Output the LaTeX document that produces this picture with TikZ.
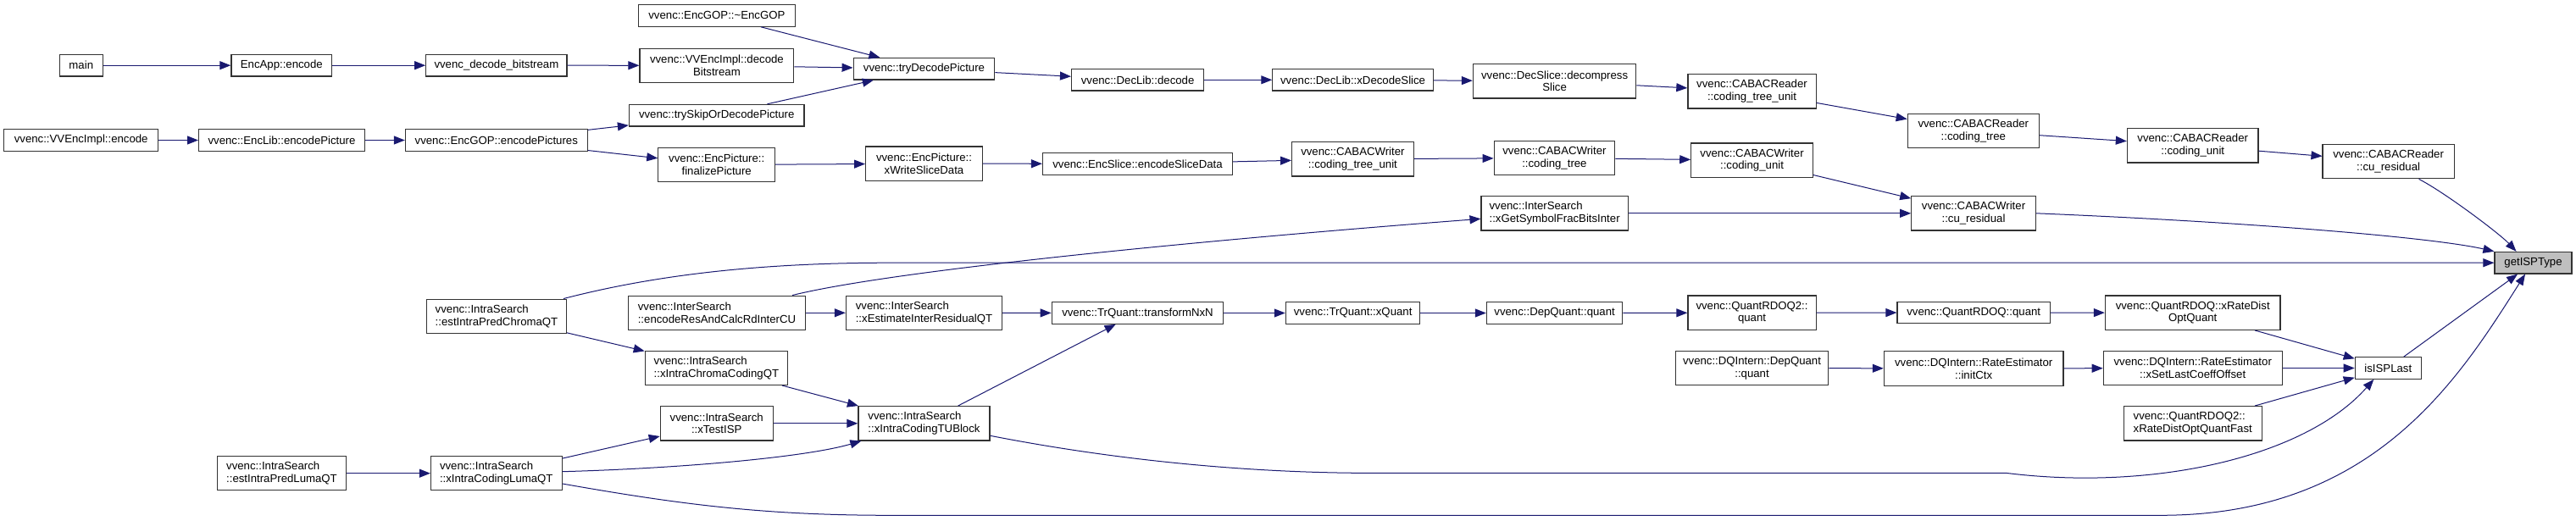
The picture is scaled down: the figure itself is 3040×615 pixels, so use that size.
\documentclass[tikz,border=0pt]{standalone}
\usepackage{fontspec}
\setmainfont{Liberation Sans}
\usetikzlibrary{arrows.meta}
\definecolor{edgec}{HTML}{191970}
\definecolor{hlfill}{HTML}{BFBFBF}
\begin{document}
\begin{tikzpicture}[x=1pt,y=-1pt,
  fn/.style={draw=black!80, line width=1.2pt, fill=white, inner sep=0pt,
    minimum height=25.6pt, font=\fontsize{13.2}{14.6}\selectfont, align=center},
  fn2/.style={fn, minimum height=40.3pt},
  fnl/.style={fn2, align=left},
  hl/.style={fn, fill=hlfill},
  call/.style={draw=edgec, line width=1pt, -{Triangle[length=13pt,width=10pt]}},
]
\useasboundingbox (0,0) rectangle (3040,615);

% column 1-3
\node[fn, minimum width=51pt] (main) at (95.8,77.2) {main};
\node[fn, minimum width=118.8pt] (encapp) at (332.3,77.2) {EncApp::encode};
\node[fn, minimum width=166.3pt] (vdb) at (585.9,77.2) {vvenc\_decode\_bitstream};
\node[fn, minimum width=181.8pt] (implenc) at (95.7,165.5) {vvenc::VVEncImpl::encode};
\node[fn, minimum width=195.8pt] (enclib) at (332.5,165.5) {vvenc::EncLib::encodePicture};
\node[fn, minimum width=214.8pt] (encgop) at (585.8,165.5) {vvenc::EncGOP::encodePictures};
\node[fnl, minimum width=164.8pt] (chroma) at (586,373.3) {vvenc::IntraSearch\\::estIntraPredChromaQT};
\node[fnl, minimum width=151.3pt] (lumaest) at (332.5,558.7) {vvenc::IntraSearch\\::estIntraPredLumaQT};
\node[fnl, minimum width=154.6pt] (lumaqt) at (585.8,558.7) {vvenc::IntraSearch\\::xIntraCodingLumaQT};

% column 4
\node[fn, minimum width=185.6pt] (dtor) at (845.9,18.4) {vvenc::EncGOP::\textasciitilde EncGOP};
\node[fn2, minimum width=181.8pt] (decbs) at (845.9,77.3) {vvenc::VVEncImpl::decode\\Bitstream};
\node[fn, minimum width=206.5pt] (tryskip) at (845.7,136.2) {vvenc::trySkipOrDecodePicture};
\node[fn2, minimum width=137.7pt] (finalize) at (845.7,194.5) {vvenc::EncPicture::\\finalizePicture};
\node[fnl, minimum width=208.9pt] (encres) at (846,369.3) {vvenc::InterSearch\\::encodeResAndCalcRdInterCU};
\node[fnl, minimum width=168.2pt] (chromaqt) at (845.4,434.3) {vvenc::IntraSearch\\::xIntraChromaCodingQT};
\node[fn2, minimum width=132.8pt] (xtestisp) at (845.7,499.8) {vvenc::IntraSearch\\::xTestISP};

% column 5
\node[fn, minimum width=166.7pt] (trydec) at (1090.5,81.3) {vvenc::tryDecodePicture};
\node[fn2, minimum width=137.7pt] (xwrite) at (1090.5,193.2) {vvenc::EncPicture::\\xWriteSliceData};
\node[fnl, minimum width=184.2pt] (xest) at (1090.5,369.3) {vvenc::InterSearch\\::xEstimateInterResidualQT};
\node[fnl, minimum width=155.1pt] (tublock) at (1090.5,499.8) {vvenc::IntraSearch\\::xIntraCodingTUBlock};

% column 6
\node[fn, minimum width=156.1pt] (declibdec) at (1342.6,94.3) {vvenc::DecLib::decode};
\node[fn, minimum width=224pt] (encslice) at (1342.5,193.3) {vvenc::EncSlice::encodeSliceData};
\node[fn, minimum width=202.6pt] (tnxn) at (1342.5,369.5) {vvenc::TrQuant::transformNxN};

% column 7
\node[fn, minimum width=189.5pt] (xdecslice) at (1596.6,94.3) {vvenc::DecLib::xDecodeSlice};
\node[fn2, minimum width=143.5pt] (wctu) at (1596.4,187.8) {vvenc::CABACWriter\\::coding\_tree\_unit};
\node[fn, minimum width=158.5pt] (xquant) at (1596.6,369.5) {vvenc::TrQuant::xQuant};

% column 8
\node[fn2, minimum width=192.4pt] (decompress) at (1834.6,95.8) {vvenc::DecSlice::decompress\\Slice};
\node[fn2, minimum width=142.5pt] (wct) at (1834.4,186.5) {vvenc::CABACWriter\\::coding\_tree};
\node[fnl, minimum width=173.1pt] (xgsfb) at (1834.6,251.8) {vvenc::InterSearch\\::xGetSymbolFracBitsInter};
\node[fn, minimum width=160.4pt] (depq) at (1834.6,369.5) {vvenc::DepQuant::quant};

% column 9
\node[fn2, minimum width=151.2pt] (rctu) at (2067.5,107.8) {vvenc::CABACReader\\::coding\_tree\_unit};
\node[fn2, minimum width=143.4pt] (wcu) at (2067.5,189.2) {vvenc::CABACWriter\\::coding\_unit};
\node[fn2, minimum width=151.2pt] (rdoq2q) at (2067.5,369.2) {vvenc::QuantRDOQ2::\\quant};
\node[fn2, minimum width=180.4pt] (dqdep) at (2067.5,434.5) {vvenc::DQIntern::DepQuant\\::quant};

% column 10
\node[fn2, minimum width=155.1pt] (rct) at (2328.8,154.5) {vvenc::CABACReader\\::coding\_tree};
\node[fn2, minimum width=146.4pt] (wres) at (2329,251.8) {vvenc::CABACWriter\\::cu\_residual};
\node[fn, minimum width=180.3pt] (rdoqq) at (2329.2,369) {vvenc::QuantRDOQ::quant};
\node[fn2, minimum width=211.7pt] (initctx) at (2329.2,435) {vvenc::DQIntern::RateEstimator\\::initCtx};

% column 11
\node[fn2, minimum width=154.6pt] (rcu) at (2587.7,171.8) {vvenc::CABACReader\\::coding\_unit};
\node[fn2, minimum width=206.6pt] (xrdoq) at (2587.7,369.2) {vvenc::QuantRDOQ::xRateDist\\OptQuant};
\node[fn2, minimum width=210.8pt] (xsetlast) at (2587.7,434.5) {vvenc::DQIntern::RateEstimator\\::xSetLastCoeffOffset};
\node[fnl, minimum width=162.8pt] (rdoqfast) at (2587.7,499.8) {vvenc::QuantRDOQ2::\\xRateDistOptQuantFast};

% column 12-13
\node[fn2, minimum width=155.1pt] (rres) at (2818.6,190.7) {vvenc::CABACReader\\::cu\_residual};
\node[fn, minimum width=78pt] (isisp) at (2818.3,434.5) {isISPLast};
\node[hl, minimum width=91pt] (getisp) at (2989.5,310.2) {getISPType};

% edges
\draw[call] (main) -- (encapp);
\draw[call] (encapp) -- (vdb);
\draw[call] (vdb) -- (decbs);
\draw[call] (implenc) -- (enclib);
\draw[call] (enclib) -- (encgop);
\draw[call] (encgop) -- (tryskip);
\draw[call] (encgop) -- (finalize);
\draw[call] (dtor) -- (trydec);
\draw[call] (decbs) -- (trydec);
\draw[call] (tryskip) -- (trydec);
\draw[call] (trydec) -- (declibdec);
\draw[call] (declibdec) -- (xdecslice);
\draw[call] (xdecslice) -- (decompress);
\draw[call] (decompress) -- (rctu);
\draw[call] (rctu) -- (rct);
\draw[call] (rct) -- (rcu);
\draw[call] (rcu) -- (rres);
\draw[call] ([xshift=36pt]rres.south) .. controls (2885,227) and (2950,276) .. ([xshift=-20pt]getisp.north);
\draw[call] (finalize) -- (xwrite);
\draw[call] (xwrite) -- (encslice);
\draw[call] (encslice) -- (wctu);
\draw[call] (wctu) -- (wct);
\draw[call] (wct) -- (wcu);
\draw[call] (wcu) -- (wres);
\draw[call] (xgsfb) -- (wres);
\draw[call] (wres.east) .. controls (2650,262) and (2870,280) .. (getisp.north west);
\draw[call] ([xshift=-16pt]encres.north east) .. controls (1050,320) and (1400,285) .. ([yshift=-6.5pt]xgsfb.west);
\draw[call] ([xshift=-4pt]chroma.north east) .. controls (760,328) and (880,310.2) .. (1050,310.2) -- (getisp.west);
\draw[call] (chroma) -- (chromaqt);
\draw[call] (encres) -- (xest);
\draw[call] (xest) -- (tnxn);
\draw[call] (tnxn) -- (xquant);
\draw[call] (xquant) -- (depq);
\draw[call] (depq) -- (rdoq2q);
\draw[call] (rdoq2q) -- (rdoqq);
\draw[call] (rdoqq) -- (xrdoq);
\draw[call] (xrdoq) -- (isisp);
\draw[call] (dqdep) -- (initctx);
\draw[call] (initctx) -- (xsetlast);
\draw[call] (xsetlast) -- (isisp);
\draw[call] (rdoqfast) -- (isisp);
\draw[call] (isisp) -- (getisp);
\draw[call] (chromaqt) -- (tublock);
\draw[call] (xtestisp) -- (tublock);
\draw[call] (tublock) -- (tnxn);
\draw[call] ([yshift=-14.5pt]tublock.east) .. controls (1300,540) and (1450,557) .. (1600,558.3) -- (2367,558.3) .. controls (2540,580) and (2720,540) .. ([xshift=-17pt]isisp.south);
\draw[call] (lumaest) -- (lumaqt);
\draw[call] (lumaqt) -- (xtestisp);
\draw[call] ([yshift=2pt]lumaqt.east) .. controls (800,553) and (950,540) .. ([xshift=4pt]tublock.south west);
\draw[call] ([yshift=-12.3pt]lumaqt.east) .. controls (800,595) and (900,608.3) .. (1050,608.3) -- (2550,608.3) .. controls (2800,608.3) and (2900,450) .. ([xshift=-9.5pt]getisp.south);
\end{tikzpicture}
\end{document}
